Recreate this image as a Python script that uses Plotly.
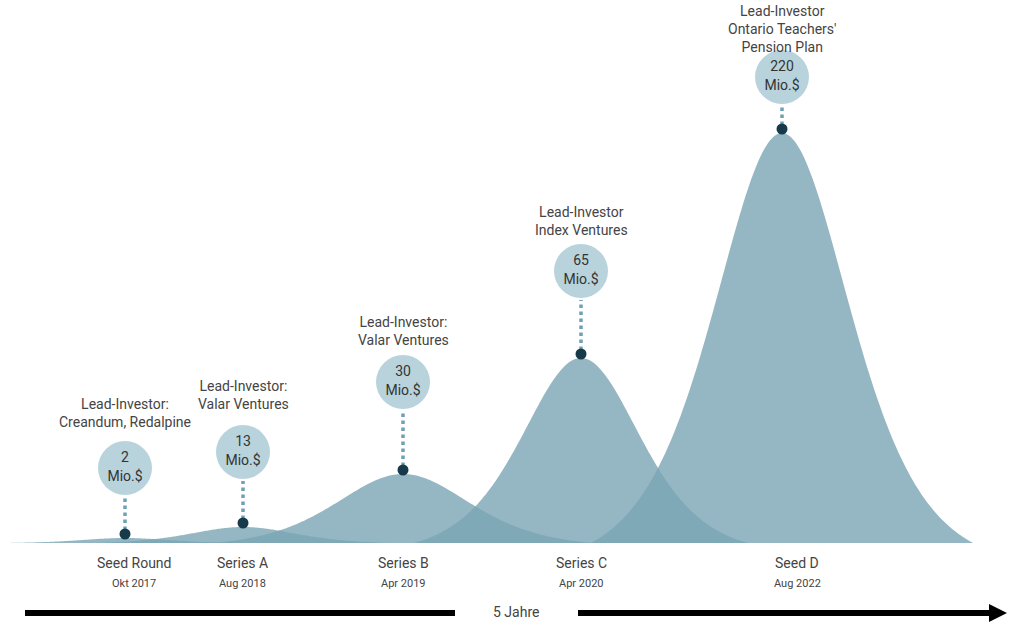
import numpy as np
import plotly.graph_objects as go

# ---- data ----
rounds = ["Seed Round", "Series A", "Series B", "Series C", "Seed D"]
dates = ["Okt 2017", "Aug 2018", "Apr 2019", "Apr 2020", "Aug 2022"]
amounts = [2, 13, 30, 65, 220]  # Mio.$
investors = [
    "Lead-Investor:<br>Creandum, Redalpine",
    "Lead-Investor:<br>Valar Ventures",
    "Lead-Investor:<br>Valar Ventures",
    "Lead-Investor<br>Index Ventures",
    "Lead-Investor<br>Ontario Teachers'<br>Pension Plan",
]
# visual peak heights of the bell shapes (chart units)
peak_heights = [5, 16, 69, 185, 410]
span_label = "5 Jahre"

# ---- layout / positions (style) ----
centers = [125, 243, 403, 581, 782]
half_widths = [125, 150, 190, 167, 191]
bubble_v = [75, 91, 161, 272, 466]
label_last_v = [121, 139, 203, 313, 496]
label_x = [134, 242, 403, 581, 797]
W, H = 1024, 631
BASE = 543  # pixel row of baseline

fill_col = "rgba(122,165,180,0.80)"
fig = go.Figure()

def sech2(u):
    return 1.0 / np.cosh(u) ** 2

for c, hw, h in zip(centers, half_widths, peak_heights):
    xs = np.linspace(c - hw, c + hw, 240)
    s = hw / 2.1
    e0 = sech2(hw / s)
    ys = np.clip((sech2((xs - c) / s) - e0) / (1 - e0), 0, None) * h
    fig.add_trace(go.Scatter(
        x=np.concatenate([xs, [xs[-1], xs[0]]]),
        y=np.concatenate([ys, [0, 0]]),
        fill="toself", fillcolor=fill_col, mode="none",
        hoverinfo="skip", showlegend=False))

R = 27  # bubble radius px
for c, h, bv in zip(centers, peak_heights, bubble_v):
    fig.add_trace(go.Scatter(
        x=[c, c], y=[h + 8, bv - R - 2], mode="lines",
        line=dict(color="#6fa1b6", width=3.5, dash="dot"),
        hoverinfo="skip", showlegend=False))

dot_v = [h + 4 for h in peak_heights]
fig.add_trace(go.Scatter(
    x=centers, y=dot_v, mode="markers",
    marker=dict(size=11, color="#173a4a"), hoverinfo="skip", showlegend=False))

fig.add_trace(go.Scatter(
    x=centers, y=bubble_v, mode="markers+text",
    marker=dict(size=2 * R, color="#b9d3dc"),
    text=[f"{a}<br>Mio.$" for a in amounts], textposition="middle center",
    textfont=dict(family="Roboto", size=14, color="#333333"),
    hoverinfo="skip", showlegend=False))

annotations = []
for c, lv, inv in zip(centers, label_last_v, investors):
    annotations.append(dict(
        x=c, y=lv - 10, text=inv, showarrow=False, xanchor="center",
        yanchor="bottom", align="center",
        font=dict(family="Roboto", size=14, color="#444444")))
for lx, r, d in zip(label_x, rounds, dates):
    annotations.append(dict(x=lx, y=BASE - 563, text=r, showarrow=False,
                            font=dict(family="Roboto", size=14, color="#444444")))
    annotations.append(dict(x=lx, y=BASE - 583, text=d, showarrow=False,
                            font=dict(family="Roboto", size=11, color="#444444")))
annotations.append(dict(x=516, y=BASE - 612, text=span_label, showarrow=False,
                        font=dict(family="Roboto", size=14, color="#444444")))

yb = BASE - 613
shapes = [
    dict(type="line", x0=25, x1=455, y0=yb, y1=yb, line=dict(color="black", width=6)),
    dict(type="line", x0=578, x1=992, y0=yb, y1=yb, line=dict(color="black", width=6)),
    dict(type="path", path=f"M 989 {yb+9} L 1007 {yb} L 989 {yb-9} Z",
         fillcolor="black", line=dict(color="black", width=0)),
]

fig.update_layout(
    width=W, height=H, margin=dict(l=0, r=0, t=0, b=0),
    paper_bgcolor="white", plot_bgcolor="white",
    xaxis=dict(range=[0, W], visible=False, fixedrange=True),
    yaxis=dict(range=[BASE - H, BASE], visible=False, fixedrange=True),
    annotations=annotations, shapes=shapes, showlegend=False,
)
fig.write_html("out.html", config={"displayModeBar": False},
               post_script="document.body.style.margin='0';document.body.style.overflow='hidden';")
